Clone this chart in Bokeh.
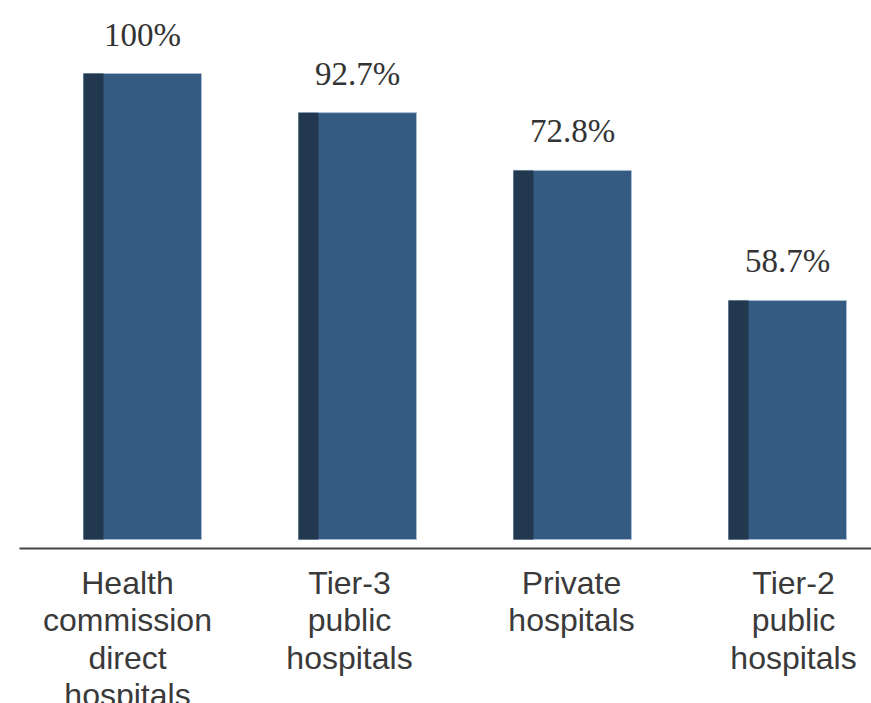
from bokeh.plotting import figure
from bokeh.models import Range1d, ColumnDataSource
from bokeh.core.properties import value
from bokeh.embed import file_html
from bokeh.resources import INLINE

# ---- data ----
categories = ["Health\ncommission\ndirect\nhospitals",
              "Tier-3\npublic\nhospitals",
              "Private\nhospitals",
              "Tier-2\npublic\nhospitals"]
value_labels = ["100%", "92.7%", "72.8%", "58.7%"]
bar_heights = [100.0, 91.6, 79.2, 51.3]   # drawn heights as they appear in the picture

W, H = 871, 703
PX_X = 215.0      # px per category for bars
PX_XL = 222.0     # px per category for labels
PX_Y = 4.66       # px per unit
BASE = 539        # px of y=0 from top
BAR_W = 0.549
STRIP_W = 0.093

x0 = -142 / PX_X
p = figure(width=W, height=H, output_backend="svg", toolbar_location=None,
           x_range=Range1d(x0, x0 + W / PX_X),
           y_range=Range1d(-(H - BASE) / PX_Y, BASE / PX_Y),
           min_border=0, min_border_left=0, min_border_right=0,
           min_border_top=0, min_border_bottom=0)
xl0 = -127 / PX_XL
p.extra_x_ranges = {"cat": Range1d(xl0, xl0 + W / PX_XL)}
p.xaxis.visible = False
p.yaxis.visible = False
p.grid.visible = False
p.outline_line_color = None
p.background_fill_color = "white"
p.border_fill_color = "white"

xs = list(range(len(categories)))
bars = ColumnDataSource(dict(x=xs, top=bar_heights, label=value_labels))
strip_x = [x - BAR_W / 2 + STRIP_W / 2 for x in xs]
strips = ColumnDataSource(dict(x=strip_x, top=bar_heights))

p.vbar(x="x", top="top", bottom=0, width=BAR_W, source=bars,
       fill_color="#365b83", line_color="#a9bdd2", line_width=1)
p.vbar(x="x", top="top", bottom=0, width=STRIP_W, source=strips,
       fill_color="#22384f", line_color=None)

p.text(x="x", y="top", text="label", source=bars,
       text_font=value("Liberation Serif"), text_font_size="33px",
       text_color="#333333", text_align="center", text_baseline="alphabetic",
       y_offset=-39)

# baseline rule
rule_y = -9 / PX_Y
p.segment(x0=[xl0 + 19 / PX_XL], x1=[xl0 + W / PX_XL], y0=[rule_y], y1=[rule_y],
          x_range_name="cat", line_color="#454545", line_width=2)

# category labels, one row per line
lx, ly, lt, lo = [], [], [], []
for i, c in enumerate(categories):
    for k, line in enumerate(c.split("\n")):
        lx.append(i)
        ly.append(0)
        lt.append(line)
        lo.append(43 + 37.5 * k)
cats = ColumnDataSource(dict(x=lx, y=ly, text=lt, off=lo))
p.text(x="x", y="y", text="text", y_offset="off", source=cats,
       x_range_name="cat",
       text_font=value("Liberation Sans"), text_font_size="32px",
       text_color="#3a3a3a", text_align="center", text_baseline="alphabetic")

open("out.html", "w").write(file_html(p, INLINE))
